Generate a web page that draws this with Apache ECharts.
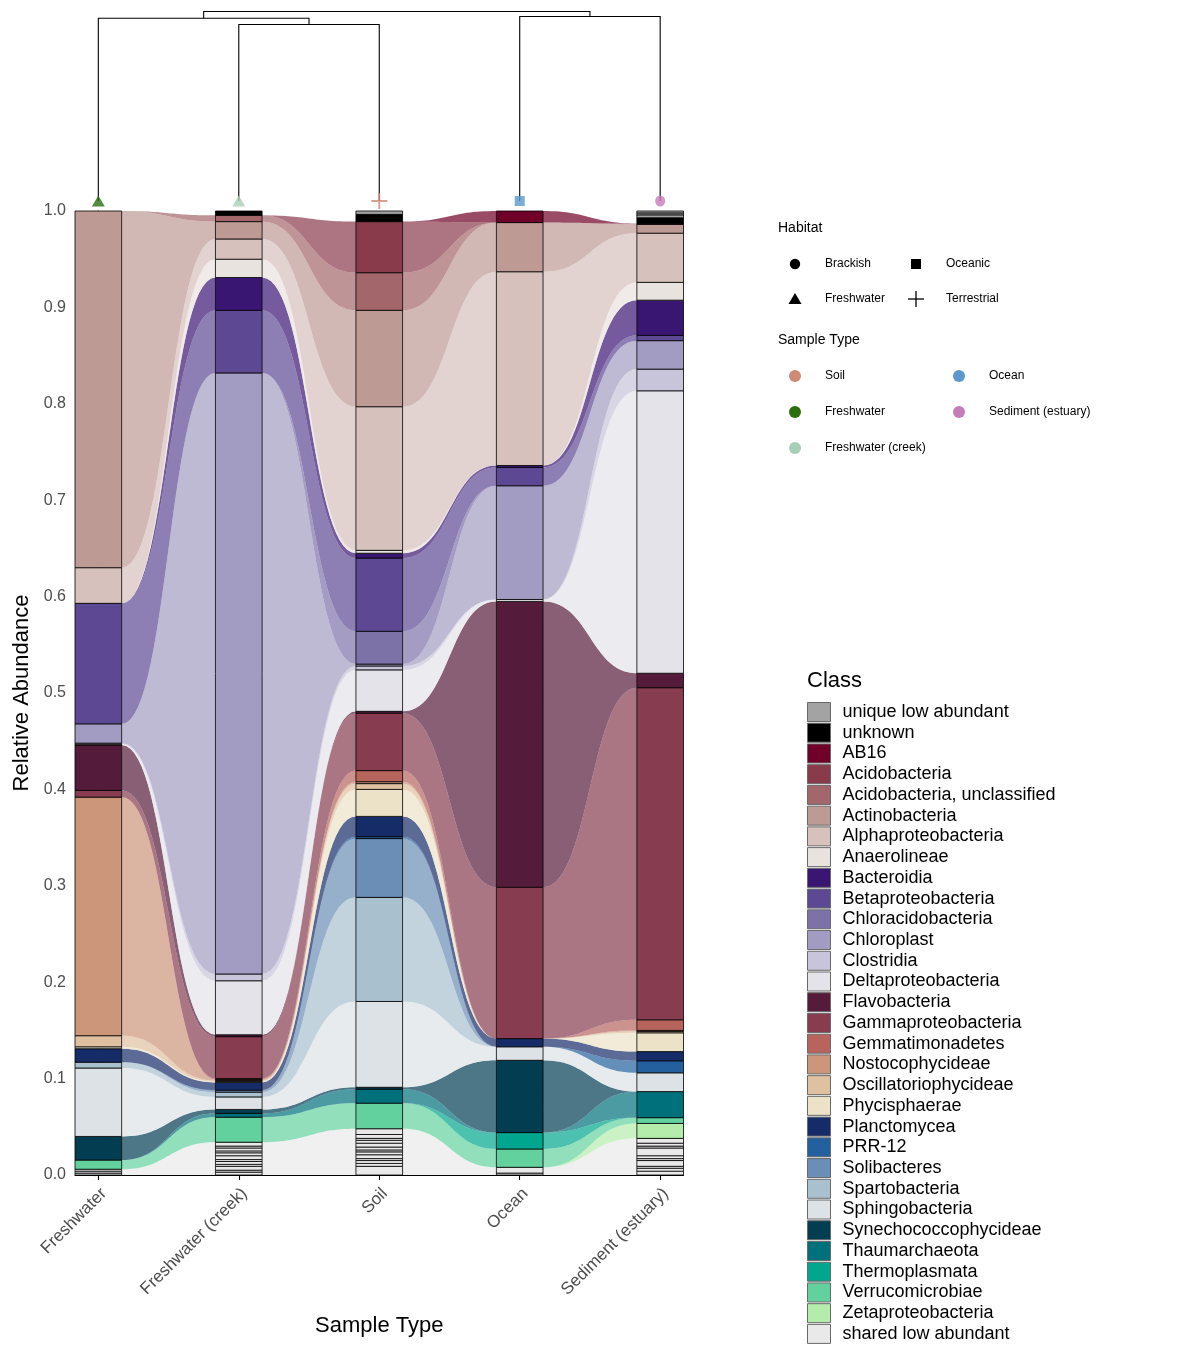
<!DOCTYPE html>
<html><head><meta charset="utf-8">
<script src="https://cdn.jsdelivr.net/npm/echarts@6/dist/echarts.min.js"></script>
<style>html,body{margin:0;padding:0;background:#fff}#main{width:1200px;height:1350px}</style>
</head><body><div id="main"></div>
<script>
// ---------------- DATA ----------------
const categories = ['Freshwater', 'Freshwater (creek)', 'Soil', 'Ocean', 'Sediment (estuary)'];
const habitatOf = ['Freshwater', 'Freshwater', 'Terrestrial', 'Oceanic', 'Brackish'];
const habitatNames = ['Brackish', 'Oceanic', 'Freshwater', 'Terrestrial'];
const sampleTypeNames = ['Soil', 'Ocean', 'Freshwater', 'Sediment (estuary)', 'Freshwater (creek)'];
const sampleTypeColors = { 'Freshwater': '#2b6e0b', 'Freshwater (creek)': '#a8cfb4', 'Soil': '#cf8a76', 'Ocean': '#5b98cb', 'Sediment (estuary)': '#c77cba' };

// legend order (top of stack first)
const classNames = ['unique low abundant', 'unknown', 'AB16', 'Acidobacteria', 'Acidobacteria, unclassified',
  'Actinobacteria', 'Alphaproteobacteria', 'Anaerolineae', 'Bacteroidia', 'Betaproteobacteria',
  'Chloracidobacteria', 'Chloroplast', 'Clostridia', 'Deltaproteobacteria', 'Flavobacteria',
  'Gammaproteobacteria', 'Gemmatimonadetes', 'Nostocophycideae', 'Oscillatoriophycideae', 'Phycisphaerae',
  'Planctomycea', 'PRR-12', 'Solibacteres', 'Spartobacteria', 'Sphingobacteria',
  'Synechococcophycideae', 'Thaumarchaeota', 'Thermoplasmata', 'Verrucomicrobiae', 'Zetaproteobacteria',
  'shared low abundant'];
const classColors = ['#a3a3a3', '#000000', '#6f0027', '#893a4b', '#a2666b',
  '#bd9a94', '#d6c1bc', '#e9e3e0', '#3a1673', '#5d4893',
  '#7d72a8', '#a39cc2', '#c8c5da', '#e4e3ea', '#551b3b',
  '#883c50', '#b6645c', '#cc967b', '#dfc0a1', '#ebe2c8',
  '#152c69', '#245f9e', '#6a8eb5', '#a9c0cf', '#dde2e6',
  '#023d52', '#00717a', '#00a78e', '#62d19e', '#b4edab',
  '#e9e9e9'];
// classes whose segments are not shared between samples (no flows drawn)
const noFlowClasses = ['unique low abundant', 'unknown'];

// relative abundance per sample: [Freshwater, Freshwater (creek), Soil, Ocean, Sediment (estuary)]
const uniqueLowParts = [[], [], [0.0035], [], [0.003, 0.002, 0.002]];
const unknown = [0, 0.0045, 0.0075, 0, 0.006];
const ab16 = [0, 0, 0, 0.012, 0];
const acidobacteria = [0, 0, 0.053, 0, 0];
const acidoUnclassified = [0, 0.0065, 0.039, 0, 0.001];
const actinobacteria = [0.370, 0.018, 0.100, 0.051, 0.009];
const alphaproteobacteria = [0.037, 0.021, 0.149, 0.201, 0.051];
const anaerolineae = [0, 0.019, 0.003, 0, 0.0185];
const bacteroidia = [0, 0.034, 0.005, 0.002, 0.0365];
const betaproteobacteria = [0.125, 0.065, 0.076, 0.019, 0.0055];
const chloracidobacteria = [0, 0, 0.034, 0, 0];
const chloroplast = [0.020, 0.6235, 0.002, 0.118, 0.0295];
const clostridia = [0.001, 0.007, 0.004, 0, 0.0225];
const deltaproteobacteria = [0.001, 0.056, 0.043, 0.002, 0.293];
const flavobacteria = [0.047, 0.002, 0.002, 0.2965, 0.015];
const gammaproteobacteria = [0.007, 0.0435, 0.0595, 0.157, 0.3445];
const gemmatimonadetes = [0, 0.001, 0.0115, 0, 0.011];
const nostocophycideae = [0.2475, 0.001, 0.002, 0, 0.001];
const oscillatoriophycideae = [0.0115, 0.001, 0.006, 0, 0.0015];
const phycisphaerae = [0.002, 0.001, 0.028, 0, 0.0195];
const planctomycea = [0.014, 0.008, 0.021, 0.0085, 0.0095];
const prr12 = [0, 0, 0.002, 0, 0.0125];
const solibacteres = [0, 0.002, 0.061, 0, 0];
const spartobacteria = [0.006, 0.005, 0.108, 0, 0];
const sphingobacteria = [0.071, 0.013, 0.089, 0.014, 0.0195];
const synechococcophycideae = [0.0245, 0.004, 0.002, 0.075, 0];
const thaumarchaeota = [0, 0.004, 0.0145, 0, 0.027];
const thermoplasmata = [0, 0, 0, 0.017, 0];
const verrucomicrobiae = [0.0095, 0.026, 0.0265, 0.019, 0.006];
const zetaproteobacteria = [0, 0, 0, 0, 0.0155];
const sharedLowParts = [
  [0.002, 0.002, 0.002],
  [0.003, 0.002, 0.004, 0.002, 0.003, 0.002, 0.004, 0.003, 0.002, 0.003, 0.002, 0.004],
  [0.009, 0.003, 0.003, 0.002, 0.004, 0.003, 0.002, 0.003, 0.004, 0.003, 0.002, 0.004, 0.006],
  [0.002, 0.006],
  [0.004, 0.003, 0.002, 0.006, 0.002, 0.003, 0.008, 0.002, 0.003, 0.005]
];

// dendrogram (hclust-like merge table: negative = leaf number, positive = merge row)
const mergeA = [-2, -4, -1, 3];
const mergeB = [-3, -5, 1, 2];
const mergeHeight = [0.878, 0.918, 0.909, 0.943];

// ---------------- BUILD ----------------
const FONT = 'Liberation Sans, Arial, sans-serif';
const HW = 0.166;       // half bar width in category units
const FLOW_ALPHA = 0.7;
const sum = a => a.reduce((s, v) => s + v, 0);
const simpleVals = [null, unknown, ab16, acidobacteria, acidoUnclassified, actinobacteria, alphaproteobacteria,
  anaerolineae, bacteroidia, betaproteobacteria, chloracidobacteria, chloroplast, clostridia, deltaproteobacteria,
  flavobacteria, gammaproteobacteria, gemmatimonadetes, nostocophycideae, oscillatoriophycideae, phycisphaerae,
  planctomycea, prr12, solibacteres, spartobacteria, sphingobacteria, synechococcophycideae, thaumarchaeota,
  thermoplasmata, verrucomicrobiae, zetaproteobacteria, null];
const parts = classNames.map((n, ci) => {
  if (ci === 0) return uniqueLowParts;
  if (ci === classNames.length - 1) return sharedLowParts;
  return simpleVals[ci].map(v => (v > 0 ? [v] : []));
});
const values = parts.map(pp => pp.map(p => sum(p)));
// stacking: bottom = last legend entry
const lows = classNames.map(() => [0, 0, 0, 0, 0]);
for (let i = 0; i < categories.length; i++) {
  let run = 0;
  for (let ci = classNames.length - 1; ci >= 0; ci--) {
    lows[ci][i] = run; run += values[ci][i];
  }
}

function flowPoints(api, i, lo0, hi0, lo1, hi1) {
  const x0 = i + HW, x1 = i + 1 - HW, xm = (x0 + x1) / 2, N = 30;
  const top = [], bot = [];
  for (let k = 0; k <= N; k++) {
    const t = k / N, u = 1 - t;
    const x = x0 * u * u * u + 3 * xm * u * u * t + 3 * xm * u * t * t + x1 * t * t * t;
    const s = 3 * t * t - 2 * t * t * t;
    top.push(api.coord([x, hi0 + (hi1 - hi0) * s]));
    bot.push(api.coord([x, lo0 + (lo1 - lo0) * s]));
  }
  return top.concat(bot.reverse());
}

function makeRender(ci) {
  const color = classColors[ci];
  return function (params, api) {
    const i = api.value(0), kind = api.value(1);
    if (kind === 0) {
      if (values[ci][i] <= 0) return null;
      let lo = lows[ci][i];
      const children = [];
      parts[ci][i].forEach(p => {
        const a = api.coord([i - HW, lo + p]), b = api.coord([i + HW, lo]);
        children.push({ type: 'rect', shape: { x: a[0], y: a[1], width: b[0] - a[0], height: b[1] - a[1] },
          style: { fill: color, stroke: '#000', lineWidth: 0.8 } });
        lo += p;
      });
      return { type: 'group', children };
    }
    if (noFlowClasses.indexOf(classNames[ci]) >= 0) return null;
    if (values[ci][i] <= 0 && values[ci][i + 1] <= 0) return null;
    const pts = flowPoints(api, i, lows[ci][i], lows[ci][i] + values[ci][i],
      lows[ci][i + 1], lows[ci][i + 1] + values[ci][i + 1]);
    return { type: 'polygon', shape: { points: pts }, style: { fill: color, opacity: FLOW_ALPHA } };
  };
}

const series = [];
// flows first (all classes), then strata on top
for (let ci = classNames.length - 1; ci >= 0; ci--) {
  const data = [];
  for (let i = 0; i < categories.length - 1; i++) data.push([i, 1]);
  series.push({ type: 'custom', name: classNames[ci], xAxisIndex: 0, yAxisIndex: 0, z: 2,
    itemStyle: { color: classColors[ci] }, renderItem: makeRender(ci), data, silent: true });
}
for (let ci = classNames.length - 1; ci >= 0; ci--) {
  const data = [];
  for (let i = 0; i < categories.length; i++) data.push([i, 0]);
  series.push({ type: 'custom', name: classNames[ci], xAxisIndex: 0, yAxisIndex: 0, z: 3,
    itemStyle: { color: classColors[ci] }, renderItem: makeRender(ci), data, silent: true });
}

// dendrogram
const leafX = categories.map((c, i) => i);
function nodeX(id) { return id < 0 ? leafX[-id - 1] : (nodeX(mergeA[id - 1]) + nodeX(mergeB[id - 1])) / 2; }
function nodeH(id) { return id < 0 ? 0 : mergeHeight[id - 1]; }
series.push({
  type: 'custom', xAxisIndex: 1, yAxisIndex: 1, silent: true,
  data: mergeHeight.map((h, r) => [r, h]),
  renderItem: function (params, api) {
    const r = api.value(0), h = mergeHeight[r];
    const a = mergeA[r], b = mergeB[r];
    const pts = [api.coord([nodeX(a), nodeH(a)]), api.coord([nodeX(a), h]), api.coord([nodeX(b), h]), api.coord([nodeX(b), nodeH(b)])];
    return { type: 'polyline', shape: { points: pts }, style: { stroke: '#000', lineWidth: 1.1, fill: null } };
  }
});
const habitatSymbol = { 'Freshwater': 'triangle', 'Terrestrial': 'path://M4.4,0h1.2v4.4h4.4v1.2h-4.4v4.4h-1.2v-4.4h-4.4v-1.2h4.4z', 'Oceanic': 'rect', 'Brackish': 'circle' };
const habitatSize = { 'Freshwater': [13, 11], 'Terrestrial': [16, 16], 'Oceanic': [10, 10], 'Brackish': [10, 11] };
series.push({
  type: 'scatter', xAxisIndex: 1, yAxisIndex: 1, silent: true, z: 5,
  data: categories.map((c, i) => ({ value: [i, 0], symbol: habitatSymbol[habitatOf[i]], symbolSize: habitatSize[habitatOf[i]],
    itemStyle: { color: sampleTypeColors[c] } }))
});

// side legends (Habitat, Sample Type) as graphic elements
const g = [];
function txt(x, y, s, size) { g.push({ type: 'text', x: x, y: y, style: { text: s, fontSize: size, fontFamily: FONT, fill: '#000', verticalAlign: 'middle', align: 'left' } }); }
txt(778, 228, 'Habitat', 14);
const habPos = { 'Brackish': [795, 264], 'Oceanic': [916, 264], 'Freshwater': [795, 299], 'Terrestrial': [916, 299] };
habitatNames.forEach(h => {
  const [x, y] = habPos[h];
  if (h === 'Brackish') g.push({ type: 'circle', shape: { cx: x, cy: y, r: 5.2 }, style: { fill: '#000' } });
  if (h === 'Oceanic') g.push({ type: 'rect', shape: { x: x - 5, y: y - 5, width: 10, height: 10 }, style: { fill: '#000' } });
  if (h === 'Freshwater') g.push({ type: 'polygon', shape: { points: [[x, y - 6], [x + 6.5, y + 5], [x - 6.5, y + 5]] }, style: { fill: '#000' } });
  if (h === 'Terrestrial') {
    g.push({ type: 'line', shape: { x1: x - 8, y1: y, x2: x + 8, y2: y }, style: { stroke: '#000', lineWidth: 1.3 } });
    g.push({ type: 'line', shape: { x1: x, y1: y - 8, x2: x, y2: y + 8 }, style: { stroke: '#000', lineWidth: 1.3 } });
  }
  txt(x + 30, y, h, 12);
});
txt(778, 340, 'Sample Type', 14);
const stPos = { 'Soil': [795, 376], 'Ocean': [959, 376], 'Freshwater': [795, 412], 'Sediment (estuary)': [959, 412], 'Freshwater (creek)': [795, 448] };
sampleTypeNames.forEach(s => {
  const [x, y] = stPos[s];
  g.push({ type: 'circle', shape: { cx: x, cy: y, r: 6 }, style: { fill: sampleTypeColors[s] } });
  txt(x + 30, y, s, 12);
});
txt(807, 681, 'Class', 22);

const option = {
  backgroundColor: '#fff',
  animation: false,
  textStyle: { fontFamily: FONT },
  grid: [
    { left: 75, right: 516.5, top: 211, bottom: 175 },
    { left: 75, right: 516.5, top: 0, height: 201 }
  ],
  xAxis: [
    { type: 'value', gridIndex: 0, min: -HW, max: categories.length - 1 + HW, splitLine: { show: false },
      axisLine: { lineStyle: { color: '#000', width: 1.1 } },
      axisTick: { customValues: leafX, length: 5, lineStyle: { color: '#000', width: 1.1 } },
      axisLabel: { customValues: leafX.map(v => v + 0.04), formatter: v => categories[Math.round(v)], rotate: 45, fontSize: 17, color: '#4d4d4d', margin: 16, fontFamily: FONT },
      name: 'Sample Type', nameLocation: 'middle', nameGap: 140, nameTextStyle: { fontSize: 22, color: '#000', fontFamily: FONT } },
    { type: 'value', gridIndex: 1, min: -HW, max: categories.length - 1 + HW, show: false }
  ],
  yAxis: [
    { type: 'value', gridIndex: 0, min: 0, max: 1, interval: 0.1, splitLine: { show: false },
      axisLine: { show: true, lineStyle: { color: '#000', width: 1.1 } },
      axisTick: { show: true, length: 5, lineStyle: { color: '#000', width: 1.1 } },
      axisLabel: { formatter: v => v.toFixed(1), fontSize: 16, color: '#4d4d4d', margin: 9, fontFamily: FONT },
      name: 'Relative Abundance', nameLocation: 'middle', nameGap: 40, nameRotate: 90,
      nameTextStyle: { fontSize: 22, color: '#000', fontFamily: FONT } },
    { type: 'value', gridIndex: 1, min: 0, max: 1, show: false }
  ],
  legend: {
    orient: 'vertical', left: 807, top: 702, padding: 0, itemWidth: 23, itemHeight: 19, itemGap: 0.73,
    height: 680, icon: 'rect', selectedMode: false, data: classNames,
    itemStyle: { borderColor: '#6a6a6a', borderWidth: 1 },
    textStyle: { fontSize: 18, color: '#000', fontFamily: FONT, padding: [0, 0, 0, 7] }
  },
  graphic: g,
  series
};
const chart = echarts.init(document.getElementById('main'), null, { renderer: 'canvas' });
chart.setOption(option);
</script></body></html>
